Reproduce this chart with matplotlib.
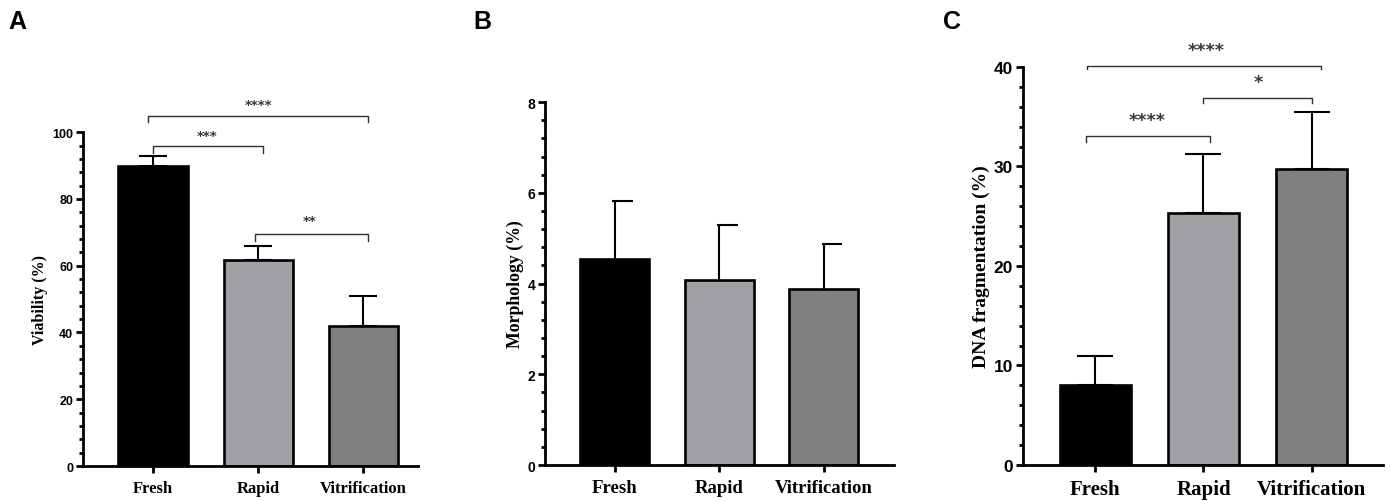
import numpy as np
import matplotlib
matplotlib.use("Agg")
import matplotlib.pyplot as plt

# ---- data ----
groups = ["Fresh", "Rapid", "Vitrification"]
colors = ["#000000", "#a1a1a5", "#808080"]

viability = [90.0, 61.8, 42.0]
viability_sd = [3.0, 4.2, 8.8]

morphology = [4.55, 4.08, 3.88]
morphology_sd = [1.28, 1.22, 1.0]

dna_frag = [8.0, 25.3, 29.7]
dna_frag_sd = [3.0, 6.0, 5.8]

SANS = "Liberation Sans"
SERIF = "Liberation Serif"
STAR_COLOR = "#383838"

fig = plt.figure(figsize=(13.91, 5.02), dpi=100)


def make_panel(rect, values, sd, ylim, major, minor, ylabel, tick_fs, cat_fs,
               lab_fs, xlim, label_x, half_cap=False, capsize=10):
    ax = fig.add_axes(rect)
    x = np.arange(len(values))
    ax.bar(x, values, width=0.66, color=colors, edgecolor="black",
           linewidth=1.9, zorder=2)
    lower = np.zeros(len(values))
    if half_cap:
        ax.errorbar(x, values, yerr=[lower, sd], fmt="none", ecolor="black",
                    elinewidth=1.5, capsize=0, zorder=1)
        tops = np.array(values) + np.array(sd)
        ax.hlines(tops, x - 0.02, x + 0.175, colors="black", linewidth=1.5,
                  zorder=1)
    else:
        ax.errorbar(x, values, yerr=[lower, sd], fmt="none", ecolor="black",
                    elinewidth=1.5, capsize=capsize, capthick=1.5, zorder=1)
    ax.set_xlim(*xlim)
    ax.set_ylim(*ylim)
    majors = np.arange(ylim[0], ylim[1] + 0.001, major)
    ax.set_yticks(majors)
    ax.set_yticks(np.arange(ylim[0], ylim[1] + 0.001, minor), minor=True)
    ax.set_yticklabels([f"{v:g}" for v in majors],
                       fontfamily=SANS, fontweight="bold", fontsize=tick_fs)
    ax.set_xticks(x)
    ax.set_xticklabels(groups, fontfamily=SERIF, fontweight="bold",
                       fontsize=cat_fs)
    ax.set_ylabel(ylabel, fontfamily=SERIF, fontweight="bold", fontsize=lab_fs)
    ax.yaxis.set_label_coords(label_x, 0.5)
    for s in ["top", "right"]:
        ax.spines[s].set_visible(False)
    for s in ["left", "bottom"]:
        ax.spines[s].set_linewidth(2.0)
    ax.tick_params(axis="y", which="major", length=5, width=2.0, pad=2)
    ax.tick_params(axis="y", which="minor", length=3, width=2.0)
    ax.tick_params(axis="x", which="major", length=5, width=2.0, pad=5)
    return ax


def brackets(ax, specs, ys, drops, text_xy, fs):
    for (i, j, lab), y, drop, (tx, ty) in zip(specs, ys, drops, text_xy):
        ax.plot([i, i, j, j], [y - drop, y, y, y - drop], color="#303030",
                linewidth=1.0, clip_on=False, zorder=3)
        ax.text(tx, ty, lab, ha="center", va="baseline", fontsize=fs,
                fontfamily="DejaVu Sans", fontweight="bold", color=STAR_COLOR,
                clip_on=False)


# ---- A: viability ----
ax_a = make_panel([0.0597, 0.0697, 0.2408, 0.665], viability, viability_sd,
                  (0, 100), 20, 4, "Viability (%)", 9, 12, 11.5,
                  (-0.667, 2.52), -0.104, capsize=10)
brackets(ax_a, [(-0.05, 2.04, "****"), (0.0, 1.05, "***"), (0.97, 2.04, "**")],
         [104.8, 95.8, 69.5], [1.8, 2.1, 2.1],
         [(1.0, 107.1), (0.51, 98.1), (1.49, 72.5)], 9.5)

# ---- B: morphology ----
ax_b = make_panel([0.3918, 0.0717, 0.2509, 0.723], morphology, morphology_sd,
                  (0, 8), 2, 0.4, "Morphology (%)", 10, 13.5, 12.8,
                  (-0.665, 2.67), -0.06, half_cap=True)

# ---- C: DNA fragmentation ----
ax_c = make_panel([0.7354, 0.0717, 0.2588, 0.793], dna_frag, dna_frag_sd,
                  (0, 40), 10, 2, "DNA fragmentation (%)", 12.5, 15, 14,
                  (-0.67, 2.66), -0.092, capsize=13)
brackets(ax_c, [(-0.08, 2.09, "****"), (1.0, 2.0, "*"), (-0.09, 1.06, "****")],
         [40.1, 36.9, 33.1], [0.3, 0.5, 0.6],
         [(1.02, 41.2), (1.505, 38.0), (0.48, 34.2)], 12.5)

# ---- panel letters ----
for lx, lab in [(8, "A"), (473, "B"), (943, "C")]:
    fig.text(lx / 1391, 1 - 29 / 502, lab, fontfamily=SANS, fontweight="bold",
             fontsize=18, va="baseline", ha="left")

fig.savefig("out.png", dpi=100)
